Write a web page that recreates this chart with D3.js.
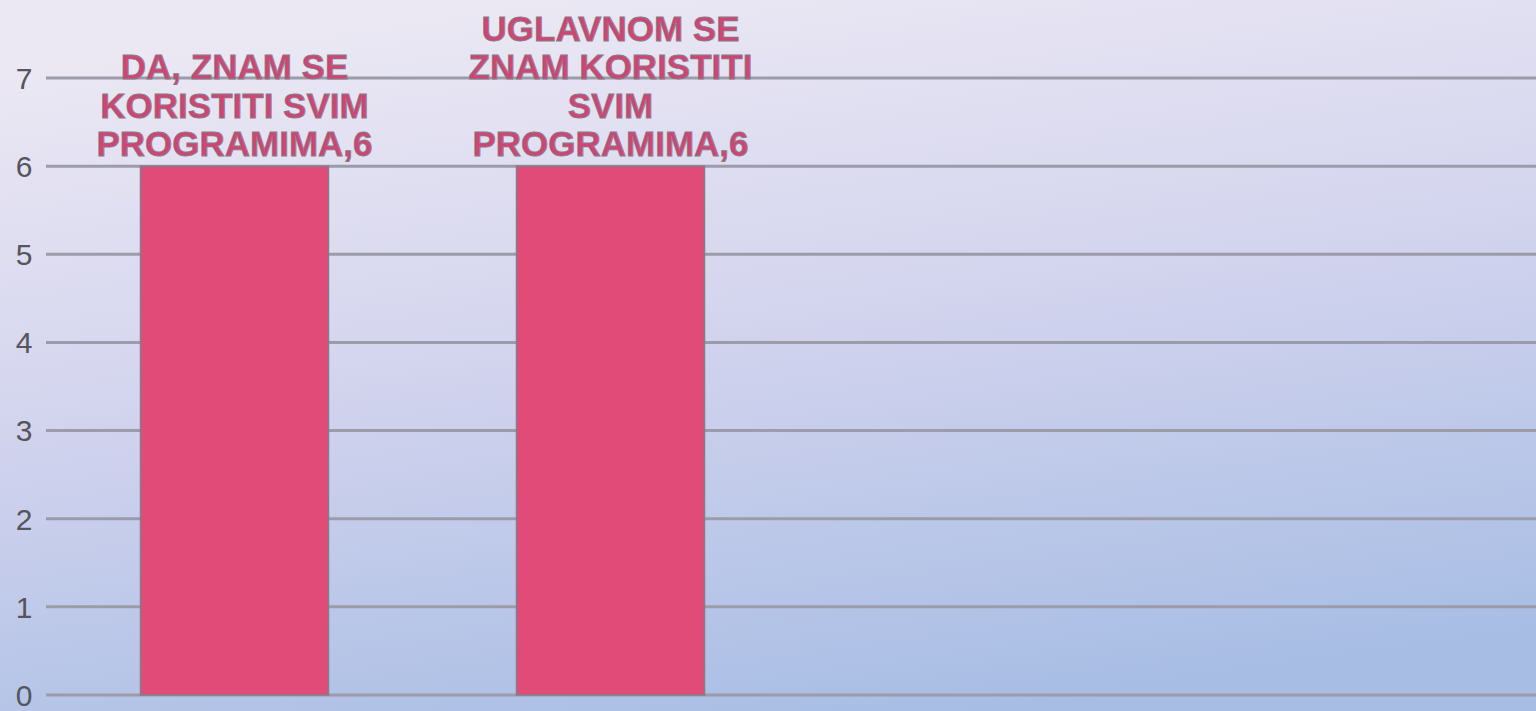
<!DOCTYPE html>
<html>
<head>
<meta charset="utf-8">
<script src="https://cdn.jsdelivr.net/npm/d3@7"></script>
<style>
  html, body { margin: 0; padding: 0; overflow: hidden; }
  svg { display: block; }
</style>
</head>
<body>
<script>
const categories = ["DA, ZNAM SE KORISTITI SVIM PROGRAMIMA", "UGLAVNOM SE ZNAM KORISTITI SVIM PROGRAMIMA"];
const values = [6, 6];
const yTicks = [0, 1, 2, 3, 4, 5, 6, 7];

const width = 1536, height = 711;

const svg = d3.select("body").append("svg")
    .attr("width", width)
    .attr("height", height);

// background gradient
const defs = svg.append("defs");
const grad = defs.append("linearGradient")
    .attr("id", "bg")
    .attr("x1", "0.35").attr("y1", "0")
    .attr("x2", "0.65").attr("y2", "1");
grad.append("stop").attr("offset", "0%").attr("stop-color", "#ebe8f4");
grad.append("stop").attr("offset", "45%").attr("stop-color", "#d3d4ee");
grad.append("stop").attr("offset", "100%").attr("stop-color", "#a7bde4");
svg.append("rect").attr("width", width).attr("height", height).attr("fill", "url(#bg)");

const x = d3.scaleBand()
    .domain(categories)
    .range([46.5, 798.5])
    .paddingInner(0.5)
    .paddingOuter(0.25);

const y = d3.scaleLinear()
    .domain([0, 7])
    .range([695, 78]);

// gridlines
svg.append("g").selectAll("line")
    .data(yTicks)
    .enter().append("line")
    .attr("x1", 46).attr("x2", width)
    .attr("y1", d => y(d)).attr("y2", d => y(d))
    .attr("stroke", "#9b9ba9")
    .attr("stroke-width", 3);

// y labels
svg.append("g").selectAll("text")
    .data(yTicks)
    .enter().append("text")
    .attr("x", 24)
    .attr("y", d => y(d))
    .attr("dy", "0.36em")
    .attr("text-anchor", "middle")
    .attr("fill", "#55555c")
    .style("font-family", "Liberation Sans, Arial, sans-serif")
    .style("font-size", "30px")
    .text(d => d);

// bars
svg.append("g").selectAll("rect")
    .data(values)
    .enter().append("rect")
    .attr("x", (d, i) => x(categories[i]))
    .attr("y", d => y(d))
    .attr("width", x.bandwidth())
    .attr("height", d => y(0) - y(d))
    .attr("fill", "#e14b78")
    .attr("stroke", "#7f7f8c")
    .attr("stroke-width", 1.5);

// data labels, wrapped and stacked upward from the bar top
const lineH = 38.5;
const maxW = 300;
const labels = svg.append("g");
values.forEach((v, i) => {
    const words = (categories[i] + "," + v).split(" ");
    const t = labels.append("text")
        .attr("text-anchor", "middle")
        .attr("fill", "#cf4674")
        .attr("stroke", "#857c88")
        .attr("stroke-width", 0.8)
        .style("font-family", "Liberation Sans, Arial, sans-serif")
        .style("font-weight", "bold")
        .style("font-size", "35px");
    const lines = [];
    let cur = [];
    const probe = t.append("tspan");
    words.forEach(w => {
        const test = cur.concat([w]).join(" ");
        probe.text(test);
        if (probe.node().getComputedTextLength() > maxW && cur.length) {
            lines.push(cur.join(" "));
            cur = [w];
        } else {
            cur.push(w);
        }
    });
    lines.push(cur.join(" "));
    probe.remove();
    const cx = x(categories[i]) + x.bandwidth() / 2;
    const base = y(v) - 10;
    lines.forEach((ln, k) => {
        t.append("tspan")
            .attr("x", cx)
            .attr("y", base - (lines.length - 1 - k) * lineH)
            .text(ln);
    });
});
</script>
</body>
</html>
